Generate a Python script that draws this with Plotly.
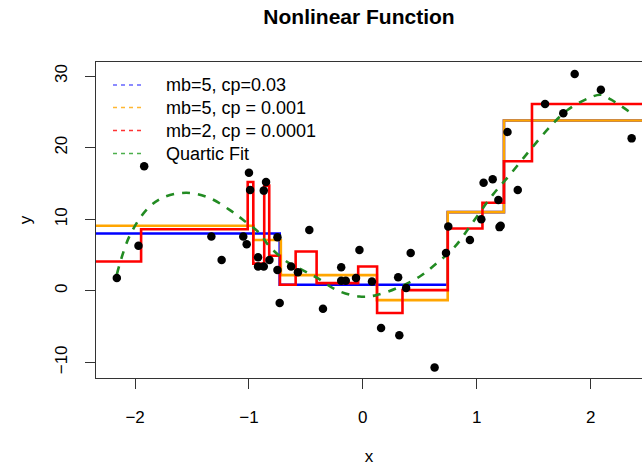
import plotly.graph_objects as go

# ---------------- data ----------------
pt_x = [-2.16, -1.97, -1.92, -1.33, -1.24, -1.05, -1.02, -1.00, -0.99, -0.92,
        -0.92, -0.87, -0.87, -0.85, -0.82, -0.75, -0.75, -0.73, -0.63, -0.57,
        -0.47, -0.35, -0.19, -0.19, -0.15, -0.06, -0.03, 0.08, 0.16, 0.31,
        0.32, 0.38, 0.42, 0.63, 0.73, 0.75, 0.94, 1.04, 1.06, 1.14,
        1.19, 1.20, 1.21, 1.27, 1.36, 1.60, 1.76, 1.86, 2.09, 2.36]
pt_y = [1.8, 6.3, 17.4, 7.6, 4.3, 7.6, 6.5, 16.5, 14.1, 4.7,
        3.4, 3.4, 14.0, 15.2, 4.3, 7.5, 2.9, -1.7, 3.4, 2.6,
        8.5, -2.5, 3.3, 1.4, 1.4, 1.8, 5.7, 1.3, -5.2, 1.9,
        -6.2, 0.4, 5.3, -10.7, 5.3, 9.0, 7.1, 10.0, 15.1, 15.6,
        12.7, 8.9, 9.1, 22.2, 14.1, 26.1, 24.8, 30.3, 28.1, 21.3]

# regression-tree step fits: split points and leaf values
blue_breaks = [-0.73, 0.745, 1.239]
blue_levels = [8.0, 0.85, 11.0, 23.8]

orange_breaks = [-0.96, -0.72, 0.123, 0.745, 1.239]
orange_levels = [9.1, 7.1, 2.2, -1.3, 11.0, 23.8]

red_breaks = [-1.947, -1.011, -0.962, -0.866, -0.822, -0.728, -0.590, -0.406,
              -0.041, 0.125, 0.348, 0.746, 1.050, 1.239, 1.485]
red_levels = [4.1, 8.6, 15.2, 3.8, 14.7, 4.9, 0.84, 5.5, 1.07, 3.4, -3.1, 0.1,
              8.7, 12.3, 18.1, 26.1]

# quartic fit curve
quartic_x = [-2.16, -2.05, -1.90, -1.76, -1.55, -1.35, -1.17, -1.05, -0.91, -0.82,
             -0.67, -0.53, -0.40, -0.23, -0.03, 0.12, 0.33, 0.50, 0.63, 0.81,
             0.98, 1.14, 1.29, 1.48, 1.66, 1.80, 1.98, 2.09, 2.18, 2.36]
quartic_y = [2.3, 7.6, 11.3, 13.0, 13.7, 13.0, 11.3, 9.9, 8.1, 6.2,
             4.1, 2.9, 1.8, 0.1, -0.8, -0.6, 0.6, 2.0, 3.6, 6.2,
             9.9, 13.4, 16.2, 19.9, 23.2, 25.3, 26.9, 27.4, 26.7, 24.8]

legend_labels = ["mb=5, cp=0.03", "mb=5, cp = 0.001", "mb=2, cp = 0.0001", "Quartic Fit"]
x_ticks = [-2, -1, 0, 1, 2]
y_ticks = [-10, 0, 10, 20, 30]

# ---------------- styling / layout ----------------
BLUE, ORANGE, RED, GREEN = "#0000FF", "#FFA500", "#FF0000", "#228B22"
LEG_COLORS = ["#6666FF", "#FFB733", "#FF3333", "#4CAF4C"]
FONT = "Liberation Sans, Arial, sans-serif"
AXIS_COLOR = "#333333"
GRID_LO, GRID_HI = -2.6, 2.7   # prediction grid of the tree fits


def step_xy(breaks, levels):
    xs = [GRID_LO] + list(breaks) + [GRID_HI]
    ys = list(levels) + [levels[-1]]
    return xs, ys


fig = go.Figure()
for brk, lev, col in [(blue_breaks, blue_levels, BLUE),
                      (orange_breaks, orange_levels, ORANGE),
                      (red_breaks, red_levels, RED)]:
    sx, sy = step_xy(brk, lev)
    fig.add_trace(go.Scatter(x=sx, y=sy, mode="lines", line_shape="hv",
                             line=dict(color=col, width=2.6),
                             showlegend=False, hoverinfo="skip"))

fig.add_trace(go.Scatter(x=quartic_x, y=quartic_y, mode="lines", line_shape="spline",
                         line=dict(color=GREEN, width=2.6, dash="8px,8px"),
                         showlegend=False, hoverinfo="skip"))

fig.add_trace(go.Scatter(x=pt_x, y=pt_y, mode="markers",
                         marker=dict(color="black", size=8.5),
                         showlegend=False))

# ---- legend drawn inside the plot (no box) ----
W, H = 642, 470
L, R, T, B = 96, 0, 62, 92
pw, ph = W - L - R, H - T - B


def px_to_paper_x(px):
    return (px - L) / pw


def py_to_paper_y(py):
    return (H - B - py) / ph


legend_rows_py = [85, 107.5, 130.5, 153.5]
shapes, annotations = [], []
for lab, col, ry in zip(legend_labels, LEG_COLORS, legend_rows_py):
    yy = py_to_paper_y(ry)
    shapes.append(dict(type="line", xref="paper", yref="paper", layer="above",
                       x0=px_to_paper_x(113), x1=px_to_paper_x(145), y0=yy, y1=yy,
                       line=dict(color=col, width=1.5, dash="4px,4px")))
    annotations.append(dict(text=lab, xref="paper", yref="paper",
                            x=px_to_paper_x(164), y=yy, xanchor="left", yanchor="middle",
                            showarrow=False, font=dict(family=FONT, size=18, color="black")))

fig.update_layout(
    width=W, height=H,
    margin=dict(l=L, r=R, t=T, b=B, pad=0),
    paper_bgcolor="white", plot_bgcolor="white",
    font=dict(family=FONT, size=17, color="black"),
    title=dict(text="Nonlinear Function", x=359 / W, xref="container", xanchor="center",
               y=1 - 17 / H, yref="container", yanchor="middle",
               font=dict(family=FONT, size=21, color="black", weight="bold")),
    shapes=shapes, annotations=annotations,
    showlegend=False,
)

fig.update_xaxes(range=[-2.343, 2.451], tickvals=x_ticks, showgrid=False, zeroline=False,
                 showline=True, mirror=True, linecolor=AXIS_COLOR, linewidth=1,
                 ticks="outside", ticklen=10, tickcolor=AXIS_COLOR,
                 ticklabelstandoff=14,
                 title=dict(text="x", standoff=23, font=dict(size=17)))
fig.update_yaxes(range=[-12.18, 31.97], tickvals=y_ticks, showgrid=False, zeroline=False,
                 showline=True, mirror=False, linecolor=AXIS_COLOR, linewidth=1,
                 ticks="outside", ticklen=10, tickcolor=AXIS_COLOR, tickangle=-90,
                 ticklabelstandoff=11,
                 title=dict(text="y", standoff=16, font=dict(size=17)))

fig.write_html("out.html")
